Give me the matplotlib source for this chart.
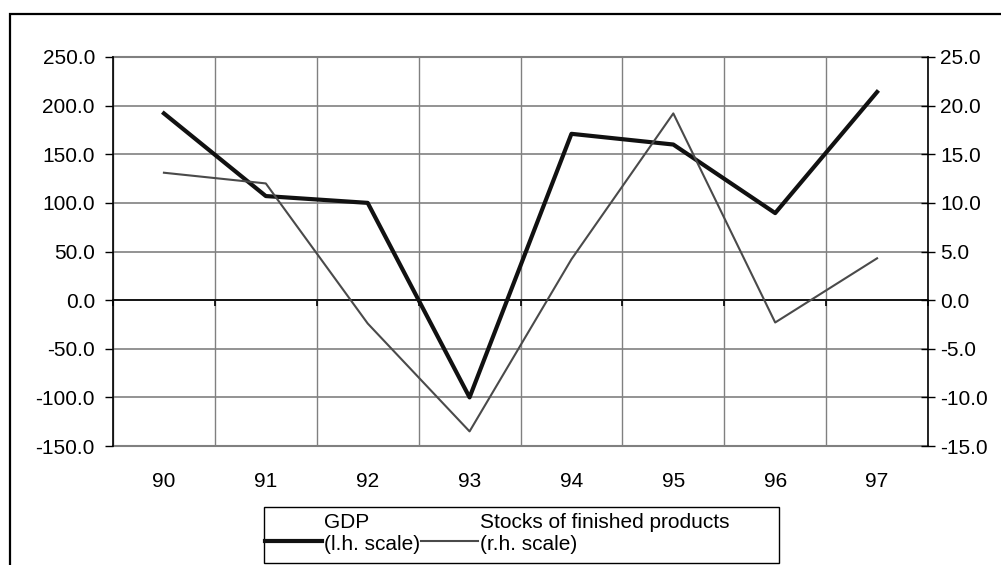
import matplotlib
matplotlib.use("Agg")
import matplotlib.pyplot as plt
from matplotlib.patches import Rectangle
from matplotlib.lines import Line2D
from matplotlib.legend_handler import HandlerLine2D
from matplotlib.ticker import FormatStrFormatter, FixedLocator

plt.rcParams['font.family'] = ['Liberation Sans', 'DejaVu Sans']
plt.rcParams['axes.unicode_minus'] = False

years = ["90", "91", "92", "93", "94", "95", "96", "97"]
gdp = [192, 107, 100, -100, 171, 160, 89.5, 214]
stocks = [13.1, 12.0, -2.4, -13.5, 4.2, 19.2, -2.3, 4.3]
left_ticks = [-150, -100, -50, 0, 50, 100, 150, 200, 250]
right_ticks = [-15, -10, -5, 0, 5, 10, 15, 20, 25]

W, H = 1001, 565
FS = 15
GRID = '#808080'
fig = plt.figure(figsize=(W / 100, H / 100), dpi=100)
fig.patch.set_facecolor('white')

# outer border (clipped on right and bottom)
fig.add_artist(Rectangle((10 / W, -0.1), 1.2, 1 - 14 / H + 0.1, transform=fig.transFigure,
                         fill=False, edgecolor='black', linewidth=1.6))

L, R, T, B = 113, 928, 57, 446
ax = fig.add_axes([L / W, 1 - B / H, (R - L) / W, (B - T) / H])
x = list(range(len(years)))
ax.set_xlim(-0.5, len(years) - 0.5)
ax.set_ylim(left_ticks[0], left_ticks[-1])

# grid
ax.yaxis.set_major_locator(FixedLocator(left_ticks))
ax.yaxis.set_major_formatter(FormatStrFormatter('%.1f'))
bounds = [i - 0.5 for i in range(len(years) + 1)]
ax.xaxis.set_major_locator(FixedLocator(x))
ax.xaxis.set_minor_locator(FixedLocator(bounds))
ax.grid(True, which='minor', axis='x', color=GRID, linewidth=1.0)
ax.grid(True, which='major', axis='y', color=GRID, linewidth=1.2)
ax.set_axisbelow(True)
# outermost grid lines (at the axis limits) drawn unclipped
ax.axhline(left_ticks[-1], color=GRID, linewidth=1.5, clip_on=False, zorder=0.5)
ax.axhline(left_ticks[0], color=GRID, linewidth=1.5, clip_on=False, zorder=0.5)

for s in ['top', 'right']:
    ax.spines[s].set_visible(False)
ax.spines['left'].set_color('black')
ax.spines['left'].set_linewidth(1.2)
ax.spines['bottom'].set_position(('data', 0))
ax.spines['bottom'].set_color('black')
ax.spines['bottom'].set_linewidth(1.2)
ax.tick_params(axis='x', which='major', length=0, labelbottom=False)
ax.tick_params(axis='x', which='minor', length=4, direction='out', width=1.2, color='black')
ax.tick_params(axis='y', which='major', length=6, direction='out', width=1.0, labelsize=FS, pad=7)

sec = ax.secondary_xaxis(location=0)
sec.set_xticks(x)
sec.set_xticklabels(years)
sec.tick_params(length=0, labelsize=FS, pad=19)
sec.spines['bottom'].set_visible(False)

ax.plot(x, gdp, color='#111111', linewidth=3.0, zorder=5)

ax2 = ax.twinx()
ax2.set_ylim(right_ticks[0], right_ticks[-1])
ax2.yaxis.set_major_locator(FixedLocator(right_ticks))
ax2.yaxis.set_major_formatter(FormatStrFormatter('%.1f'))
for s in ['top', 'left', 'bottom']:
    ax2.spines[s].set_visible(False)
ax2.spines['right'].set_color('black')
ax2.spines['right'].set_linewidth(1.2)
ax2.tick_params(axis='y', length=10, direction='inout', width=1.0, labelsize=FS, pad=4)
ax2.plot(x, stocks, color='#4a4a4a', linewidth=1.5, zorder=4)


class LowLine(HandlerLine2D):
    def create_artists(self, legend, orig_handle, xdescent, ydescent, width, height, fontsize, trans):
        return super().create_artists(legend, orig_handle, xdescent, ydescent + 0.7 * fontsize,
                                      width, height, fontsize, trans)


# legend frame
LX0, LX1, LY0, LY1 = 264, 779, 507, 563
fig.add_artist(Rectangle((LX0 / W, 1 - LY1 / H), (LX1 - LX0) / W, (LY1 - LY0) / H,
                         transform=fig.transFigure, fill=False, edgecolor='black', linewidth=1.0))

h1 = Line2D([], [], color='#111111', linewidth=3.0)
h2 = Line2D([], [], color='#4a4a4a', linewidth=1.5)
leg = fig.legend([h1, h2], ["GDP\n(l.h. scale)", "Stocks of finished products\n(r.h. scale)"],
                 loc='upper left', bbox_to_anchor=(LX0 / W, 1 - (LY0 + 5) / H), ncol=2,
                 fontsize=FS, frameon=False,
                 borderaxespad=0, borderpad=0.05, handlelength=2.75, handletextpad=0.1,
                 columnspacing=0.0, labelspacing=0.0,
                 handler_map={Line2D: LowLine()})
for t in leg.get_texts():
    t.set_linespacing(1.2)

fig.savefig("out.png", dpi=100, facecolor='white')
